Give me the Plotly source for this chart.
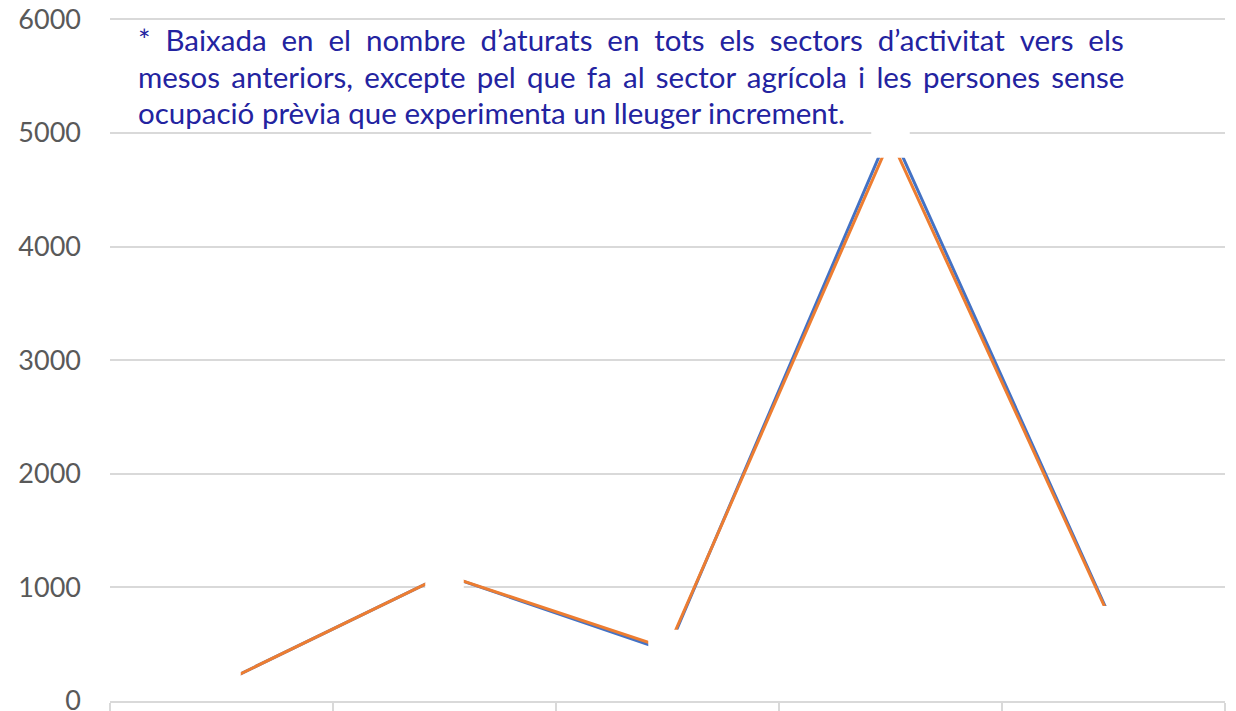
import plotly.graph_objects as go

categories = ["Agricultura", "Indústria", "Construcció", "Serveis", "Sense ocupació anterior"]
series_blue = [158, 1110, 440, 5030, 670]
series_orange = [158, 1110, 460, 4950, 660]
y_ticks = [0, 1000, 2000, 3000, 4000, 5000, 6000]
note_lines = [
    "* Baixada en el nombre d’aturats en tots els sectors d’activitat vers els",
    "mesos anteriors, excepte pel que fa al sector agrícola i les persones sense",
    "ocupació prèvia que experimenta un lleuger increment.",
]

BLUE = "#4472C4"
ORANGE = "#ED7D31"
GRID = "#D9D9D9"
FONT = "Lato"

fig = go.Figure()
fig.add_trace(go.Scatter(x=categories, y=series_blue, mode="lines",
                         line=dict(color=BLUE, width=3), name="Sèrie 1"))
fig.add_trace(go.Scatter(x=categories, y=series_orange, mode="lines",
                         line=dict(color=ORANGE, width=3), name="Sèrie 2"))
# white data-label boxes hiding the lines around each point
for vals in (series_blue, series_orange):
    fig.add_trace(go.Scatter(x=categories, y=vals, mode="markers", hoverinfo="skip",
                             marker=dict(symbol="square", size=38, color="white",
                                         line=dict(width=0)),
                             cliponaxis=False))

justify = [" \u2009\u2009", " \u200a\u200a", " "]
annotations = []
line_y = [0.968, 0.915, 0.862]
for t, yy, sp in zip(note_lines, line_y, justify):
    annotations.append(dict(x=0.0235, y=yy, xref="paper", yref="paper",
                            text=t.replace(" ", sp),
                            showarrow=False, xanchor="left", yanchor="middle",
                            font=dict(family=FONT, size=29.5, color="#2323A0")))

fig.update_layout(
    width=1236, height=711,
    margin=dict(l=102, r=19, t=10, b=18, autoexpand=False),
    paper_bgcolor="white", plot_bgcolor="white",
    showlegend=False,
    annotations=annotations,
    xaxis=dict(range=[-0.5, 4.5], showticklabels=False, showgrid=False, showline=True,
               linecolor=GRID, linewidth=2, automargin=False,
               ticks="outside", tickson="boundaries", ticklen=14, tickcolor=GRID, tickwidth=2,
               zeroline=False),
    yaxis=dict(range=[0, 6012], tickvals=y_ticks, showgrid=True, gridcolor=GRID, gridwidth=2,
               zeroline=False, showline=False, ticks="", automargin=False,
               ticklabeloverflow="allow",
               tickfont=dict(family=FONT, size=27, color="#595959"), ticklabelstandoff=28),
)

fig.write_html("out.html")
